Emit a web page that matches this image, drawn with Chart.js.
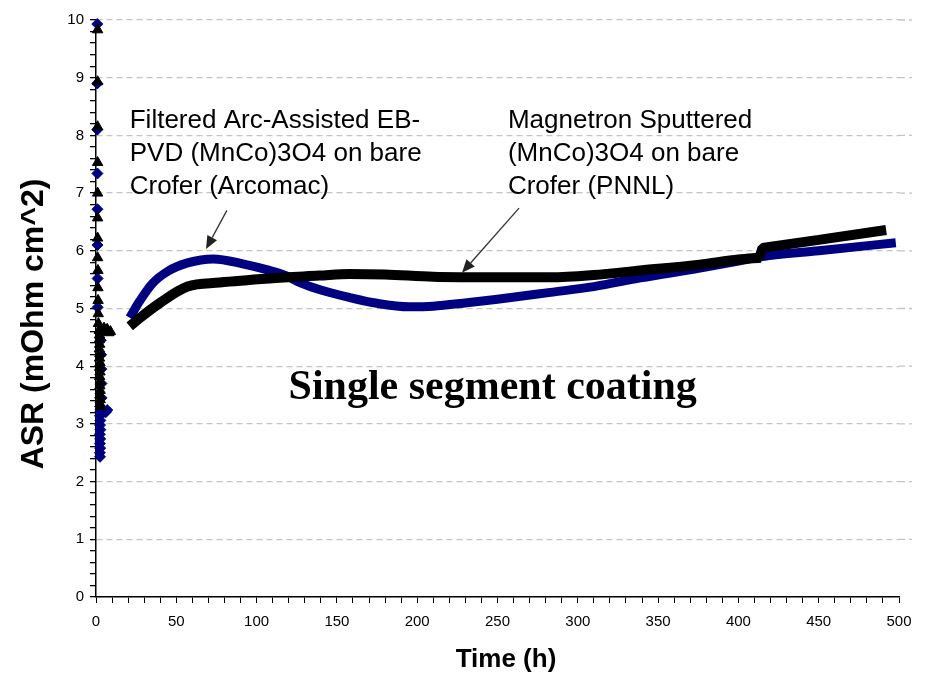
<!DOCTYPE html>
<html>
<head>
<meta charset="utf-8">
<title>ASR vs time</title>
<script src="https://cdn.jsdelivr.net/npm/chart.js@4.4.1/dist/chart.umd.min.js"></script>
<style>
    html, body { margin: 0; padding: 0; background: #fff; }
    #wrap { width: 939px; height: 684px; }
</style>
</head>
<body>
<div id="wrap"><canvas id="asrChart" width="939" height="684"></canvas></div>
<script>
// Start-up readings (first few hours)
const blackEarlyTime = [1.0, 1.0, 1.0, 1.0, 1.0, 1.0, 1.0, 1.0, 1.2, 1.2, 1.3, 1.4, 1.5,
    2.0, 2.2, 2.0, 2.3, 2.1, 2.4, 2.2, 2.5, 2.3, 2.5, 2.3, 2.6, 2.4, 2.6, 2.4, 2.6, 2.5, 2.7,
    4, 5, 6, 7, 8, 9];
const blackEarlyAsr  = [9.83, 8.93, 8.15, 7.53, 7.0, 6.57, 6.22, 5.88, 5.66, 5.36, 5.14, 4.91, 4.74,
    4.62, 4.54, 4.46, 4.38, 4.3, 4.22, 4.14, 4.06, 3.98, 3.9, 3.82, 3.74, 3.66, 3.58, 3.5, 3.42, 3.35, 3.3,
    4.6, 4.66, 4.6, 4.64, 4.58, 4.6];
const blueEarlyTime  = [0.8, 0.8, 0.8, 0.9, 0.9, 0.9, 1.0, 1.0,
    3.0, 3.2, 3.3, 3.4, 3.5,
    2.6, 2.8, 2.5, 2.7, 2.5, 2.7, 2.4, 2.6, 2.4, 2.6, 2.4, 2.5,
    5, 6, 7];
const blueEarlyAsr   = [9.93, 8.9, 8.1, 7.34, 6.72, 6.1, 5.52, 5.02,
    4.45, 4.2, 3.95, 3.7, 3.45,
    3.3, 3.22, 3.14, 3.06, 2.98, 2.9, 2.82, 2.74, 2.66, 2.58, 2.5, 2.43,
    3.22, 3.2, 3.24];

// Long-term test, magnetron sputtered (PNNL); the step at ~415 h is drawn as its own straight piece
const blackTime = [21, 27, 40, 57, 77, 108, 139, 158, 180, 210, 250, 283, 310, 339, 376, 400, 414];
const blackAsr  = [4.69, 4.83, 5.1, 5.38, 5.45, 5.52, 5.57, 5.6, 5.59, 5.55, 5.54, 5.54, 5.58, 5.66, 5.76, 5.85, 5.88];
const blackLateTime = [413, 415, 450, 492];
const blackLateAsr  = [5.87, 6.05, 6.19, 6.36];

// Long-term test, filtered arc EB-PVD (Arcomac)
const blueTime = [21, 27, 35, 45, 57, 73, 92, 108, 119, 127, 140, 158, 175, 195, 210, 231, 250, 283, 310, 339, 376, 400, 415, 450, 498];
const blueAsr  = [4.84, 5.12, 5.43, 5.65, 5.79, 5.86, 5.77, 5.66, 5.56, 5.45, 5.32, 5.19, 5.09, 5.03, 5.04, 5.1, 5.16, 5.28, 5.38, 5.53, 5.7, 5.82, 5.9, 6.0, 6.14];

const sansFont = "'Liberation Sans', Arial, sans-serif";
const navy = '#000080';

function toPoints(xs, ys) {
    return xs.map((x, i) => ({ x: x, y: ys[i] }));
}

// The dashed gridlines run a little past the end of the x axis
const gridTailPlugin = {
    id: 'gridTail',
    beforeDatasetsDraw(chart) {
        const c = chart.ctx;
        const ys = chart.scales.y;
        const right = chart.chartArea.right;
        c.save();
        c.strokeStyle = '#c4c4c4';
        c.lineWidth = 1.3;
        c.setLineDash([6, 4]);
        for (let v = 1; v <= 10; v++) {
            const py = ys.getPixelForValue(v);
            c.beginPath();
            c.moveTo(right, py);
            c.lineTo(right + 13, py);
            c.stroke();
        }
        c.restore();
    }
};

// Axis titles, callout texts, arrows and the caption in the middle of the plot
const calloutPlugin = {
    id: 'callouts',
    afterDatasetsDraw(chart) {
        const c = chart.ctx;
        const xs = chart.scales.x;
        const ys = chart.scales.y;

        c.save();
        c.fillStyle = '#000';
        c.textBaseline = 'middle';
        c.textAlign = 'center';
        c.font = 'bold 26px ' + sansFont;
        c.fillText('Time (h)', 506, 660);
        c.save();
        c.translate(34, 324);
        c.rotate(-Math.PI / 2);
        c.font = 'bold 32px ' + sansFont;
        c.fillText('ASR (mOhm cm^2)', 0, 0);
        c.restore();

        const blocks = [
            { t: 21, v: 8.26, lines: ['Filtered Arc-Assisted EB-', 'PVD (MnCo)3O4 on bare', 'Crofer (Arcomac)'] },
            { t: 256.5, v: 8.26, lines: ['Magnetron Sputtered', '(MnCo)3O4 on bare', 'Crofer (PNNL)'] }
        ];
        c.font = '26px ' + sansFont;
        c.textAlign = 'left';
        blocks.forEach(b => {
            const px = xs.getPixelForValue(b.t);
            const py = ys.getPixelForValue(b.v);
            b.lines.forEach((line, i) => c.fillText(line, px, py + i * 33));
        });

        const arrows = [
            { from: [81.5, 6.7], to: [68.5, 6.03] },
            { from: [263.4, 6.74], to: [227.9, 5.62] }
        ];
        c.strokeStyle = '#333';
        c.fillStyle = '#222';
        c.lineWidth = 1.3;
        arrows.forEach(a => {
            const x1 = xs.getPixelForValue(a.from[0]), y1 = ys.getPixelForValue(a.from[1]);
            const x2 = xs.getPixelForValue(a.to[0]), y2 = ys.getPixelForValue(a.to[1]);
            const ang = Math.atan2(y2 - y1, x2 - x1);
            const head = 13, half = 5.5;
            const bx = x2 - head * Math.cos(ang), by = y2 - head * Math.sin(ang);
            c.beginPath();
            c.moveTo(x1, y1);
            c.lineTo(bx, by);
            c.stroke();
            c.beginPath();
            c.moveTo(x2, y2);
            c.lineTo(bx + half * Math.sin(ang), by - half * Math.cos(ang));
            c.lineTo(bx - half * Math.sin(ang), by + half * Math.cos(ang));
            c.closePath();
            c.fill();
        });

        c.fillStyle = '#000';
        c.font = "bold 42px 'Liberation Serif', 'Times New Roman', serif";
        c.textAlign = 'center';
        c.fillText('Single segment coating', xs.getPixelForValue(247), ys.getPixelForValue(3.62));
        c.restore();
    }
};

document.addEventListener('DOMContentLoaded', function() {
    const ctx = document.getElementById('asrChart').getContext('2d');
    const lineStyle = {
        type: 'line',
        pointRadius: 0,
        cubicInterpolationMode: 'monotone',
        fill: false
    };
    const asrChart = new Chart(ctx, {
        data: {
            datasets: [
                Object.assign({}, lineStyle, {
                    label: 'Magnetron Sputtered (PNNL)',
                    data: toPoints(blackTime, blackAsr),
                    borderColor: '#000',
                    borderWidth: 10
                }),
                {
                    type: 'line',
                    label: 'Magnetron Sputtered (PNNL), after 415 h',
                    data: toPoints(blackLateTime, blackLateAsr),
                    borderColor: '#000',
                    borderWidth: 10,
                    borderJoinStyle: 'bevel',
                    tension: 0,
                    pointRadius: 0,
                    fill: false
                },
                {
                    type: 'scatter',
                    label: 'Magnetron Sputtered start-up',
                    data: toPoints(blackEarlyTime, blackEarlyAsr),
                    pointStyle: 'triangle',
                    pointRadius: 6,
                    backgroundColor: '#000',
                    borderColor: '#000',
                    clip: false
                },
                Object.assign({}, lineStyle, {
                    label: 'Filtered Arc EB-PVD (Arcomac)',
                    data: toPoints(blueTime, blueAsr),
                    borderColor: navy,
                    borderWidth: 9
                }),
                {
                    type: 'scatter',
                    label: 'Filtered Arc start-up',
                    data: toPoints(blueEarlyTime, blueEarlyAsr),
                    pointStyle: 'rectRot',
                    pointRadius: 5.5,
                    backgroundColor: navy,
                    borderColor: navy,
                    clip: false
                }
            ]
        },
        options: {
            responsive: false,
            animation: false,
            layout: {
                padding: { top: 20, right: 40, left: 0, bottom: 0 }
            },
            plugins: {
                legend: { display: false },
                tooltip: { enabled: false }
            },
            scales: {
                x: {
                    type: 'linear',
                    min: 0,
                    max: 500,
                    afterFit: scale => { scale.height = 87; },
                    ticks: {
                        stepSize: 10,
                        autoSkip: false,
                        maxRotation: 0,
                        color: '#000',
                        padding: 10,
                        font: { family: sansFont, size: 15 },
                        callback: v => (v % 50 === 0 ? v : '')
                    },
                    grid: {
                        drawOnChartArea: false,
                        tickLength: 6,
                        tickColor: '#000'
                    },
                    border: { color: '#000', width: 1.5 }
                },
                y: {
                    type: 'linear',
                    min: 0,
                    max: 10,
                    afterFit: scale => { scale.width = 96; },
                    ticks: {
                        stepSize: 0.2,
                        autoSkip: false,
                        maxTicksLimit: 100,
                        color: '#000',
                        padding: 6,
                        font: { family: sansFont, size: 15 },
                        callback: v => (Math.abs(v - Math.round(v)) < 1e-6 ? Math.round(v) : '')
                    },
                    grid: {
                        color: c => (c.tick && Math.abs(c.tick.value - Math.round(c.tick.value)) < 1e-6 ? '#c4c4c4' : 'rgba(0,0,0,0)'),
                        lineWidth: 1.3,
                        tickLength: 6,
                        tickColor: '#000'
                    },
                    border: { color: '#000', width: 1.5, dash: [6, 4] }
                }
            }
        },
        plugins: [gridTailPlugin, calloutPlugin]
    });
});
</script>
</body>
</html>
